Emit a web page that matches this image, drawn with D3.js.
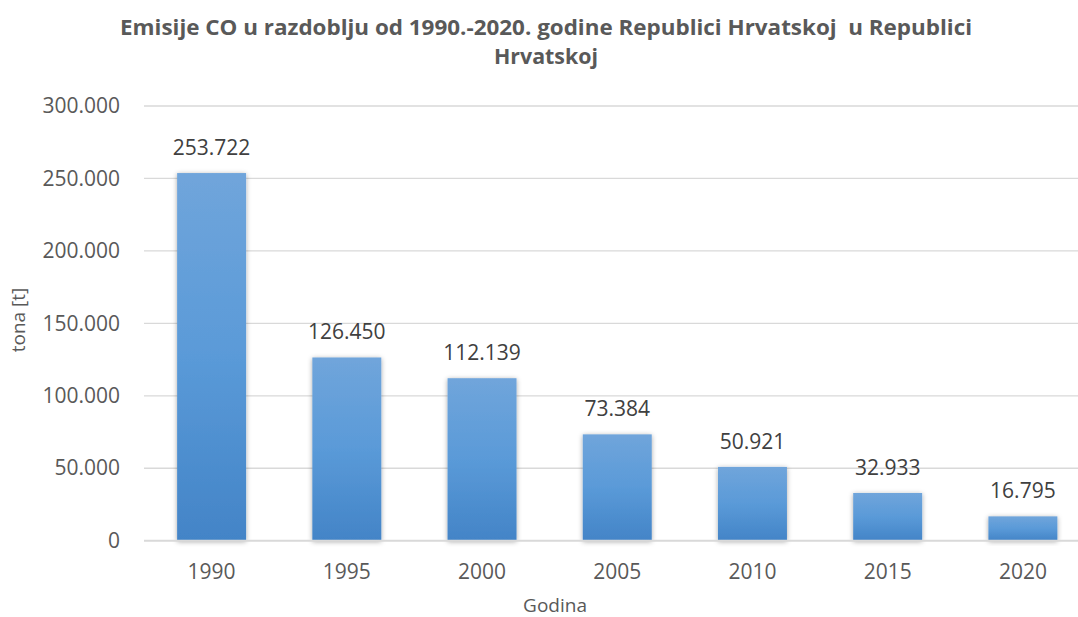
<!DOCTYPE html>
<html>
<head>
<meta charset="utf-8">
<script src="https://cdn.jsdelivr.net/npm/d3@7"></script>
<style>
  body { margin: 0; background: #fff; }
  svg { display: block; font-family: "Open Sans", sans-serif; }
  .title { white-space: pre; }
</style>
</head>
<body>
<svg id="chart" width="1078" height="617"></svg>
<script>
const years = ["1990", "1995", "2000", "2005", "2010", "2015", "2020"];
const emissions = [253722, 126450, 112139, 73384, 50921, 32933, 16795];
const yTicks = [0, 50000, 100000, 150000, 200000, 250000, 300000];
const titleLines = ["Emisije CO u razdoblju od 1990.-2020. godine Republici Hrvatskoj  u Republici", "Hrvatskoj"];

const TEXT = "#595959";
const GRID = "#d9d9d9";

const svg = d3.select("#chart");
const plotLeft = 144, plotRight = 1090.5, plotTop = 106, plotBottom = 540.7;

const x = d3.scaleBand().domain(years).range([plotLeft, plotRight]).paddingInner(0.49).paddingOuter(0.245);
const y = d3.scaleLinear().domain([0, 300000]).range([plotBottom, plotTop]);

// dots as thousands separator
const fmt = d3.formatLocale({ decimal: ",", thousands: ".", grouping: [3], currency: ["", ""] }).format(",d");

const defs = svg.append("defs");
const grad = defs.append("linearGradient").attr("id", "barGrad")
  .attr("x1", 0).attr("y1", 0).attr("x2", 0).attr("y2", 1);
grad.append("stop").attr("offset", "0%").attr("stop-color", "#70a5db");
grad.append("stop").attr("offset", "50%").attr("stop-color", "#5a9ad8");
grad.append("stop").attr("offset", "100%").attr("stop-color", "#4384c7");

const shadow = defs.append("filter").attr("id", "shadow")
  .attr("x", "-20%").attr("y", "-20%").attr("width", "140%").attr("height", "140%");
shadow.append("feDropShadow").attr("dx", 0).attr("dy", 1).attr("stdDeviation", 2.5)
  .attr("flood-color", "#000").attr("flood-opacity", 0.35);

// title
svg.append("g").selectAll("text")
  .data(titleLines)
  .join("text")
  .attr("class", "title")
  .attr("x", 546)
  .attr("y", (d, i) => 35 + i * 29)
  .attr("text-anchor", "middle")
  .attr("font-size", 21)
  .attr("font-weight", "bold")
  .attr("fill", TEXT)
  .attr("textLength", (d, i) => i === 0 ? 852 : 104)
  .attr("lengthAdjust", "spacingAndGlyphs")
  .text(d => d);

// gridlines
svg.append("g").selectAll("line")
  .data(yTicks.filter(d => d > 0))
  .join("line")
  .attr("x1", plotLeft).attr("x2", 1078)
  .attr("y1", d => y(d)).attr("y2", d => y(d))
  .attr("stroke", GRID).attr("stroke-width", 1.3);

// y axis labels
const yAxis = svg.append("g")
  .attr("transform", `translate(${plotLeft},0)`)
  .call(d3.axisLeft(y).tickValues(yTicks).tickFormat(d => d === 0 ? "0" : fmt(d)).tickSize(0).tickPadding(24));
yAxis.select(".domain").remove();
yAxis.selectAll("text").attr("font-size", 21).attr("fill", TEXT).attr("font-family", "Open Sans");

// bars
svg.append("g").selectAll("rect")
  .data(years)
  .join("rect")
  .attr("x", d => x(d))
  .attr("width", x.bandwidth())
  .attr("y", (d, i) => y(emissions[i]))
  .attr("height", (d, i) => y(0) - y(emissions[i]))
  .attr("fill", "url(#barGrad)")
  .attr("filter", "url(#shadow)");

// baseline
svg.append("line")
  .attr("x1", plotLeft).attr("x2", 1078)
  .attr("y1", y(0)).attr("y2", y(0))
  .attr("stroke", GRID).attr("stroke-width", 2);

// value labels
svg.append("g").selectAll("text")
  .data(years)
  .join("text")
  .attr("x", d => x(d) + x.bandwidth() / 2)
  .attr("y", (d, i) => y(emissions[i]) - 18)
  .attr("text-anchor", "middle")
  .attr("font-size", 21)
  .attr("fill", "#404040")
  .text((d, i) => fmt(emissions[i]));

// x axis labels
const xAxis = svg.append("g")
  .attr("transform", `translate(0,${plotBottom})`)
  .call(d3.axisBottom(x).tickSize(0).tickPadding(23));
xAxis.select(".domain").remove();
xAxis.selectAll("text").attr("font-size", 21).attr("fill", TEXT).attr("font-family", "Open Sans");

// axis titles
svg.append("text")
  .attr("x", 555).attr("y", 612)
  .attr("text-anchor", "middle")
  .attr("font-size", 19)
  .attr("fill", TEXT)
  .text("Godina");

svg.append("text")
  .attr("transform", "translate(25,320) rotate(-90)")
  .attr("text-anchor", "middle")
  .attr("font-size", 19)
  .attr("fill", TEXT)
  .text("tona [t]");
</script>
</body>
</html>
